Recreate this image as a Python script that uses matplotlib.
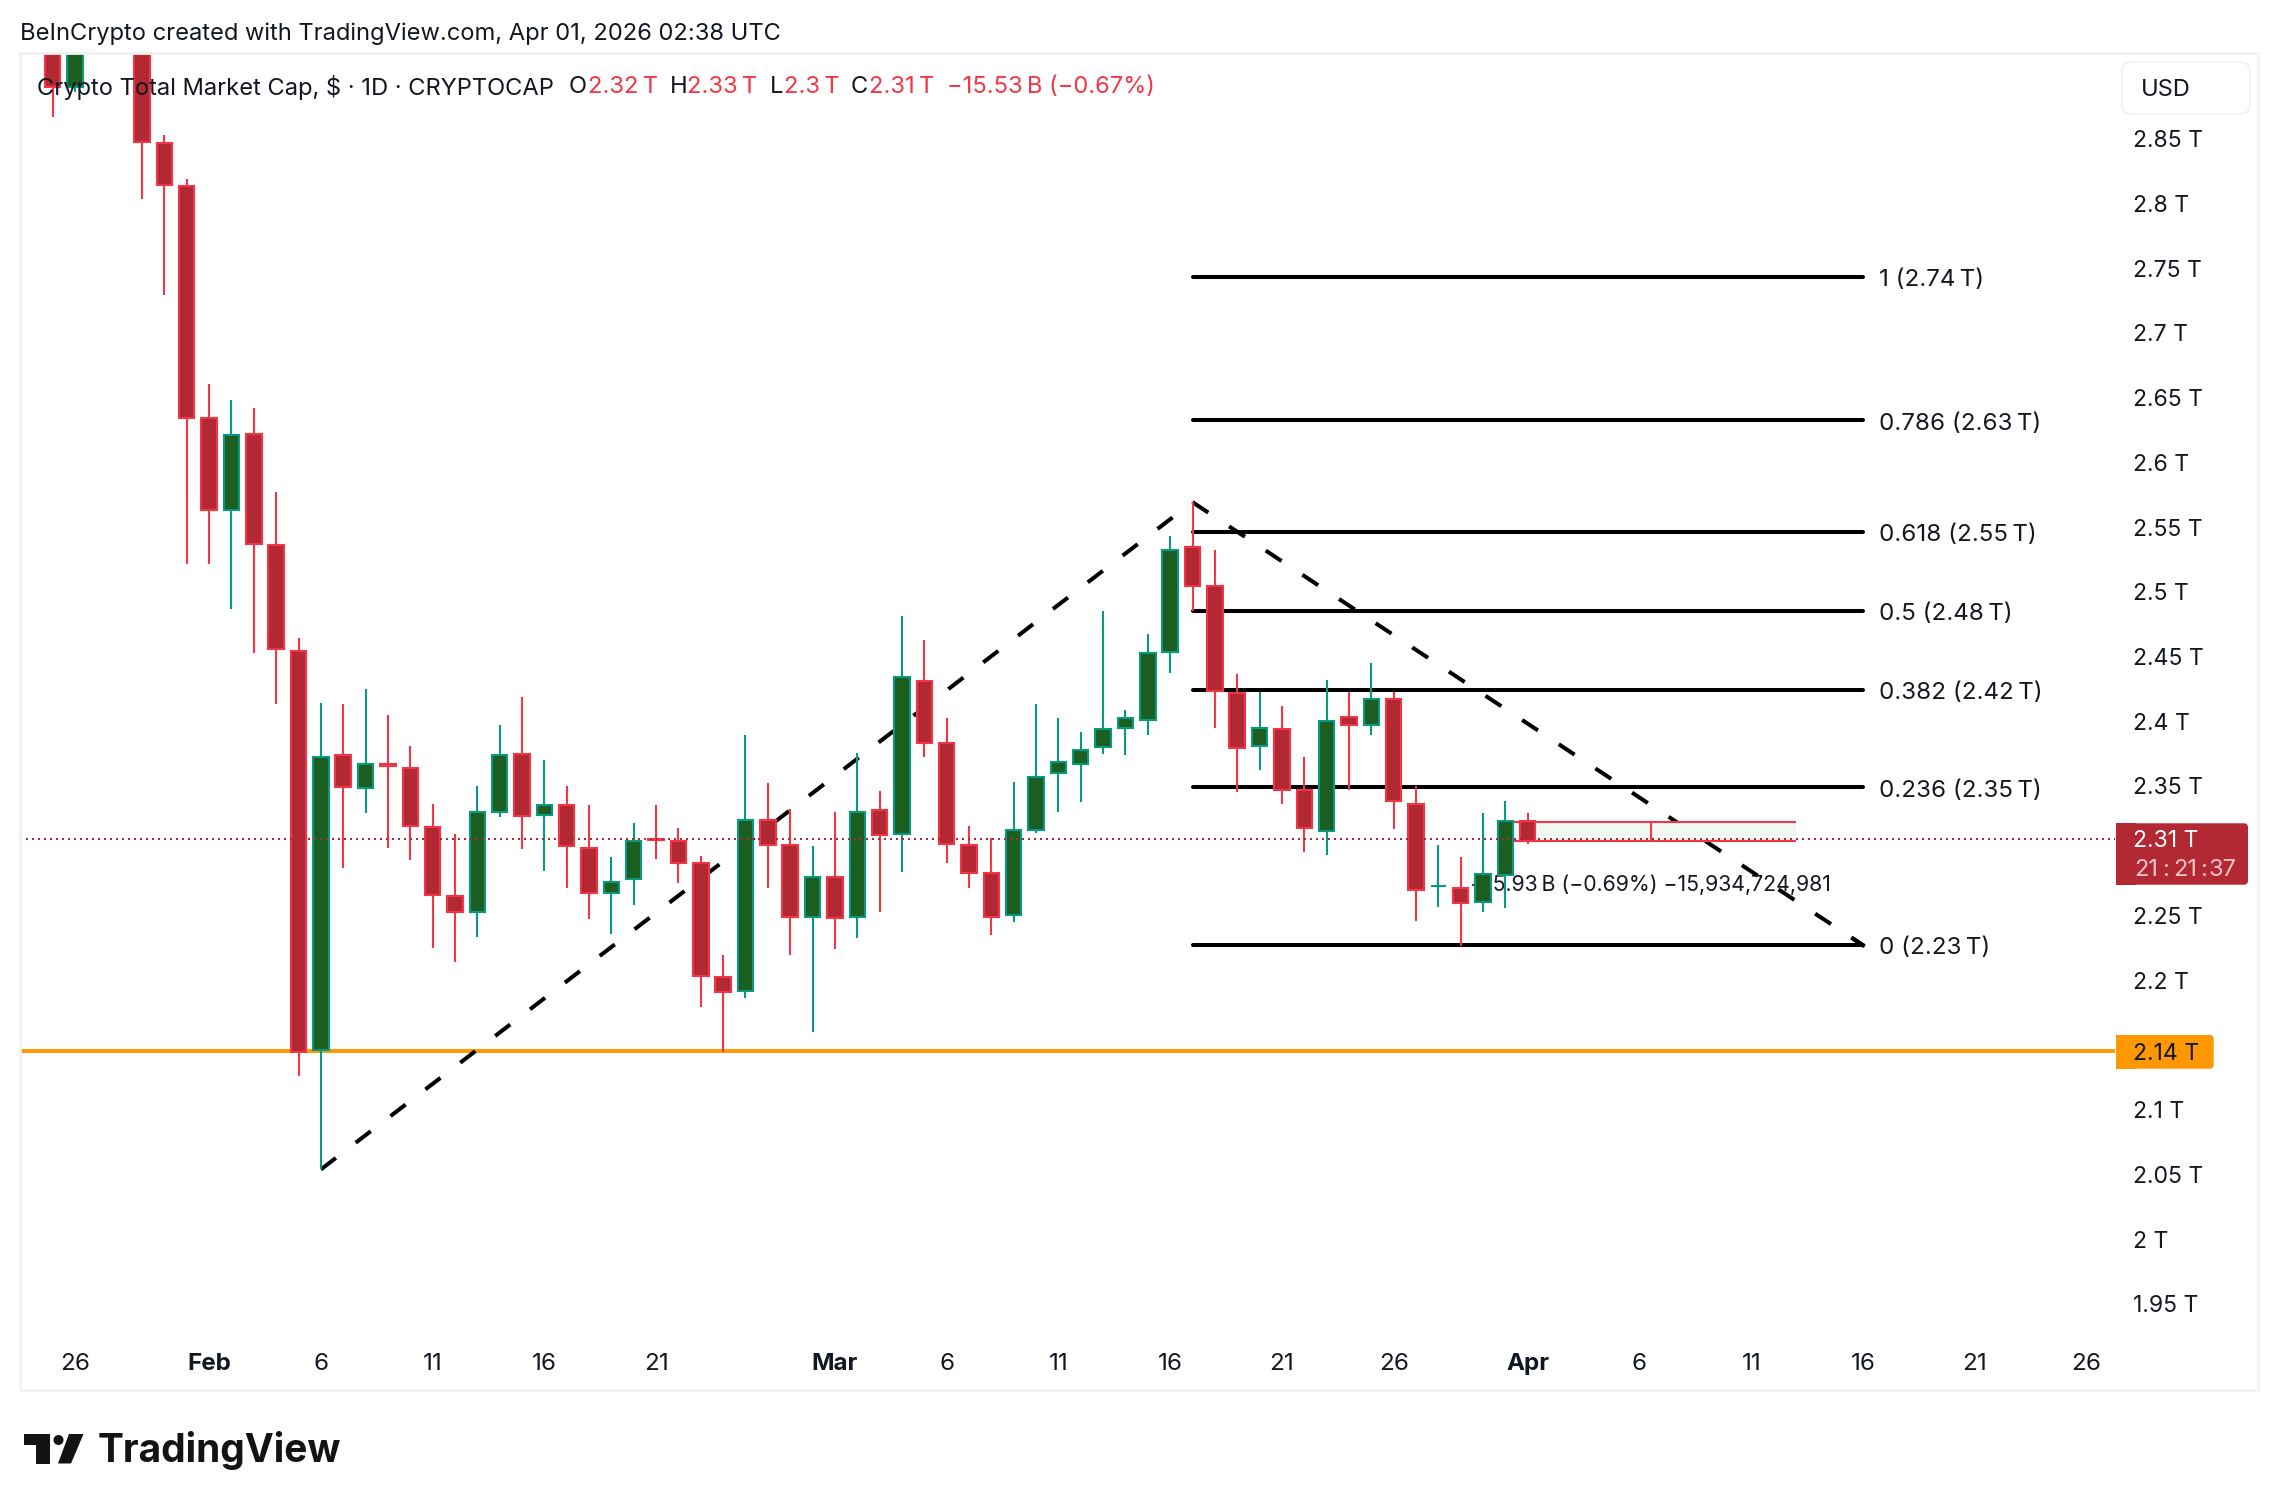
import matplotlib
matplotlib.use("Agg")
import matplotlib.pyplot as plt
from matplotlib.patches import Rectangle, FancyBboxPatch, Polygon, Circle
from matplotlib.transforms import ScaledTranslation

plt.rcParams['font.family'] = ['Inter', 'DejaVu Sans']

# days counted from Jan 26, Jan 27/28 are off the top of the chart
days = [-1, 0] + list(range(3, 66))

opens = [2.95, 2.8889, 2.95, 2.8456, 2.8124, 2.6337, 2.5626, 2.6213, 2.5354, 2.4539,
         2.1456, 2.3728, 2.3473, 2.3666, 2.3635, 2.3179, 2.2639, 2.2515, 2.3295, 2.3736,
         2.3272, 2.3349, 2.3017, 2.2669, 2.2770, 2.3085, 2.3071, 2.2901, 2.2020, 2.1905,
         2.3233, 2.3033, 2.2484, 2.2793, 2.2484, 2.3303, 2.3118, 2.4307, 2.3828, 2.3040,
         2.2824, 2.2492, 2.3156, 2.3589, 2.3666, 2.3797, 2.3937, 2.4006, 2.4524, 2.5335,
         2.5034, 2.4207, 2.3798, 2.3929, 2.3458, 2.3141, 2.4022, 2.3960, 2.4168, 2.3357,
         2.2718, 2.2708, 2.2595, 2.2801, 2.3223]
highs = [2.97, 2.97, 2.97, 2.8518, 2.8183, 2.6596, 2.6475, 2.6409, 2.5767, 2.4632,
         2.4135, 2.4122, 2.4238, 2.4037, 2.3805, 2.3357, 2.3118, 2.3496, 2.3967, 2.4176,
         2.3697, 2.3496, 2.3349, 2.2940, 2.3210, 2.3342, 2.3164, 2.2955, 2.2190, 2.3890,
         2.3519, 2.3316, 2.3025, 2.3288, 2.3749, 2.3450, 2.4802, 2.4624, 2.4014, 2.3187,
         2.3087, 2.3527, 2.4122, 2.4014, 2.3906, 2.4848, 2.4083, 2.4670, 2.5420, 2.5685,
         2.5312, 2.4361, 2.4215, 2.4114, 2.3720, 2.4315, 2.4215, 2.4439, 2.4222, 2.3496,
         2.3040, 2.2940, 2.3280, 2.3380, 2.3280]
lows = [2.8659, 2.8855, 2.8026, 2.7284, 2.5206, 2.5206, 2.4861, 2.4516, 2.4124, 2.1250,
        2.053, 2.2857, 2.3282, 2.3012, 2.2919, 2.2239, 2.2131, 2.2324, 2.3251, 2.3004,
        2.2834, 2.2703, 2.2463, 2.2347, 2.2572, 2.2927, 2.2741, 2.1784, 2.1436, 2.1853,
        2.2703, 2.2185, 2.1591, 2.2232, 2.2317, 2.2518, 2.2827, 2.3715, 2.2896, 2.2703,
        2.2340, 2.2440, 2.3128, 2.3290, 2.3367, 2.3736, 2.3731, 2.3885, 2.4364, 2.4843,
        2.3939, 2.3445, 2.3615, 2.3352, 2.2981, 2.2958, 2.3465, 2.3885, 2.3159, 2.2448,
        2.2556, 2.2255, 2.2518, 2.2549, 2.3043]
closes = [2.8889, 2.95, 2.8471, 2.8132, 2.6339, 2.5626, 2.6206, 2.5364, 2.4547, 2.1436,
          2.3720, 2.3488, 2.3666, 2.3643, 2.3187, 2.2654, 2.2515, 2.3295, 2.3728, 2.3264,
          2.3349, 2.3025, 2.2669, 2.2754, 2.3071, 2.3077, 2.2901, 2.2028, 2.1897, 2.3226,
          2.3040, 2.2484, 2.2793, 2.2476, 2.3295, 2.3110, 2.4331, 2.3828, 2.3048, 2.2824,
          2.2484, 2.3156, 2.3558, 2.3674, 2.3774, 2.3929, 2.4014, 2.4516, 2.5312, 2.5041,
          2.4230, 2.3782, 2.3944, 2.3458, 2.3164, 2.3991, 2.3960, 2.4168, 2.3380, 2.2685,
          2.2718, 2.2592, 2.2809, 2.3223, 2.3069]

fib_levels = [2.7425, 2.6316, 2.5453, 2.4843, 2.4232, 2.3482, 2.2262]
fib_labels = ['1 (2.74\u2009T)', '0.786 (2.63\u2009T)', '0.618 (2.55\u2009T)', '0.5 (2.48\u2009T)',
              '0.382 (2.42\u2009T)', '0.236 (2.35\u2009T)', '0 (2.23\u2009T)']
fib_start, fib_end = 50, 80

zig_x = [11, 50, 80]
zig_y = [2.053, 2.5685, 2.2262]

support = 2.1444
last_price = 2.3079
box_days = [64, 77]
box_prices = [2.3066, 2.3218]

price_ticks = [2.85, 2.8, 2.75, 2.7, 2.65, 2.6, 2.55, 2.5, 2.45, 2.4, 2.35,
               2.25, 2.2, 2.1, 2.05, 2.0, 1.95]
price_labels = ['2.85 T', '2.8 T', '2.75 T', '2.7 T', '2.65 T', '2.6 T', '2.55 T', '2.5 T',
                '2.45 T', '2.4 T', '2.35 T', '2.25 T', '2.2 T', '2.1 T', '2.05 T', '2 T', '1.95 T']
date_ticks = [0, 6, 11, 16, 21, 26, 34, 39, 44, 49, 54, 59, 65, 70, 75, 80, 85, 90]
date_labels = ['26', 'Feb', '6', '11', '16', '21', 'Mar', '6', '11', '16', '21', '26',
               'Apr', '6', '11', '16', '21', '26']

RED, RED_FILL = '#f23645', '#b22833'
GREEN, GREEN_FILL = '#089981', '#1b5e20'
INK = '#131722'

W, H = 2278, 1510
# pane in pixels
L, R, T, B = 20, 2115, 53, 1340
PX_DAY = 22.35
PX_T = 1294.4
Y_285 = 137.8

fig = plt.figure(figsize=(W / 100, H / 100), dpi=100, facecolor='white')
ax = fig.add_axes([L / W, 1 - B / H, (R - L) / W, (B - T) / H])
ax.set_xlim((L - 75) / PX_DAY, (R - 75) / PX_DAY)
ax.set_ylim(2.85 - (B - Y_285) / PX_T, 2.85 + (Y_285 - T) / PX_T)
for s in ax.spines.values():
    s.set_visible(False)
ax.patch.set_visible(False)

ax.set_yticks(price_ticks, price_labels)
ax.yaxis.tick_right()
ax.tick_params(axis='y', length=0, pad=13, labelsize=16.6, labelcolor=INK)
ax.set_xticks(date_ticks, date_labels)
ax.tick_params(axis='x', length=0, pad=17.5, labelsize=17.4, labelcolor=INK)
for lab in ax.get_xticklabels():
    lab.set_va('center')
    if lab.get_text() in ('Feb', 'Mar', 'Apr'):
        lab.set_fontweight('bold')
# inter sits a bit high when centred
tick_down = ScaledTranslation(0, -0.7 / 72, fig.dpi_scale_trans)
for lab in ax.get_yticklabels():
    lab.set_transform(lab.get_transform() + tick_down)
fib_down = ScaledTranslation(0, -2.3 / 72, fig.dpi_scale_trans)

# drawings under the candles
ax.axhline(support, color='#ff9800', lw=2.8, zorder=2)
for lev, lab in zip(fib_levels, fib_labels):
    ax.plot([fib_start, fib_end], [lev, lev], color='black', lw=2.9,
            solid_capstyle='round', zorder=3)
    ax.text(fib_end + 0.7, lev, lab, fontsize=17.4, color=INK, va='center', ha='left', zorder=3,
            transform=ax.transData + fib_down)

for i in range(2):
    ax.plot(zig_x[i:i + 2], zig_y[i:i + 2], color='black', lw=2.9,
            linestyle=(0, (4.7, 6.2)), dash_capstyle='butt', zorder=3)
# little arrow tip at the end
tip = 0.015
ax.plot([zig_x[2] - tip * (zig_x[2] - zig_x[1]), zig_x[2]],
        [zig_y[2] - tip * (zig_y[2] - zig_y[1]), zig_y[2]], color='black', lw=2.9, zorder=3)

ax.add_patch(Rectangle((box_days[0], box_prices[0]), box_days[1] - box_days[0],
                       box_prices[1] - box_prices[0], facecolor='#f1f7f1', edgecolor='none', zorder=3.5))
for p in box_prices:
    ax.plot(box_days, [p, p], color=RED, lw=1.5, solid_capstyle='butt', zorder=3.6)
ax.plot([sum(box_days) / 2] * 2, box_prices, color=RED, lw=1.5, zorder=3.6)
ax.text(sum(box_days) / 2, 2.2728, '\u221215.93\u2009B (\u22120.69%) \u221215,934,724,981',
        fontsize=15.3, color=INK, ha='center', va='center', zorder=3.7)

# candles
for d, o, h, l, c in zip(days, opens, highs, lows, closes):
    up = c >= o
    ax.vlines(d, l, h, color=GREEN if up else RED, lw=1.5, zorder=4)
    ax.bar(d, abs(c - o), bottom=min(o, c), width=0.69, facecolor=GREEN_FILL if up else RED_FILL,
           edgecolor=GREEN if up else RED, linewidth=1.5, zorder=5)

ax.axhline(last_price, color=RED_FILL, lw=1.44, linestyle=(0, (1, 2)), zorder=6)

# everything outside the pane, in pixels
ov = fig.add_axes([0, 0, 1, 1], zorder=10)
ov.set_xlim(0, W)
ov.set_ylim(H, 0)
ov.axis('off')


def py(p):
    return Y_285 + (2.85 - p) * PX_T


ov.add_patch(Rectangle((L, T), 2258 - L, 1390 - T, fill=False, edgecolor='#f2f2f2', lw=2))
ov.text(20, 33.5, 'BeInCrypto created with TradingView.com, Apr 01, 2026 02:38 UTC',
        fontsize=17.05, color=INK, va='center')

# legend line
leg_y = 87
ov.text(36.7, leg_y, 'Crypto Total Market Cap, $ \u00b7 1D \u00b7 CRYPTOCAP', fontsize=17.05, color=INK, va='center')
for x, s, col in [(568.6, 'O', INK), (587.7, '2.32\u2009T', RED), (669.6, 'H', INK), (687, '2.33\u2009T', RED),
                  (770, 'L', INK), (784.4, '2.3\u2009T', RED), (851, 'C', INK), (868.6, '2.31\u2009T', RED),
                  (947.4, '\u221215.53\u2009B (\u22120.67%)', RED)]:
    ov.text(x, leg_y, s, fontsize=17.05, color=col, va='center')

# USD button
ov.add_patch(FancyBboxPatch((2122 + 8, 62 + 8), 128 - 16, 52 - 16, boxstyle='round,pad=8,rounding_size=10',
                            facecolor='white', edgecolor='#f0f1f3', lw=1.2))
ov.text(2140.7, 89.5, 'USD', fontsize=17, color=INK, va='center')

# last price tag
ov.add_patch(FancyBboxPatch((2116 + 4, 823.3 + 4), 132 - 8, 61.4 - 8, boxstyle='round,pad=4,rounding_size=4',
                            facecolor=RED_FILL, edgecolor='none'))
ov.add_patch(Rectangle((2116, 823.3), 20, 61.4, facecolor=RED_FILL, edgecolor='none'))
ov.text(2133, py(last_price) + 2, '2.31 T', fontsize=16.6, color='white', va='center')
# countdown has tabular digits, so it is placed piece by piece
for x, s in [(2146, '21'), (2165.7, ':'), (2185, '21'), (2203.3, ':'), (2222, '37')]:
    ov.text(x, 870, s, fontsize=17, color='#efc4c8', va='center', ha='center')

# support tag
ov.add_patch(FancyBboxPatch((2116 + 4, 1035 + 4), 97.7 - 8, 33.7 - 8, boxstyle='round,pad=4,rounding_size=4',
                            facecolor='#ff9800', edgecolor='none'))
ov.add_patch(Rectangle((2116, 1035), 20, 33.7, facecolor='#ff9800', edgecolor='none'))
ov.text(2133, py(support) + 2.5, '2.14 T', fontsize=16.6, color=INK, va='center')

# TradingView logo
logo = '#131313'
ov.add_patch(Polygon([(24, 1434), (50, 1434), (50, 1463.5), (36, 1463.5), (36, 1445), (24, 1445)],
                     facecolor=logo, edgecolor='none'))
ov.add_patch(Circle((58.5, 1440), 5, facecolor=logo, edgecolor='none'))
ov.add_patch(Polygon([(69, 1434), (83.5, 1434), (71, 1463.5), (58, 1463.5)], facecolor=logo, edgecolor='none'))
ov.text(98, 1450.5, 'TradingView', fontsize=28, fontweight='bold', color=logo, va='center')

fig.savefig('out.png', dpi=100)
